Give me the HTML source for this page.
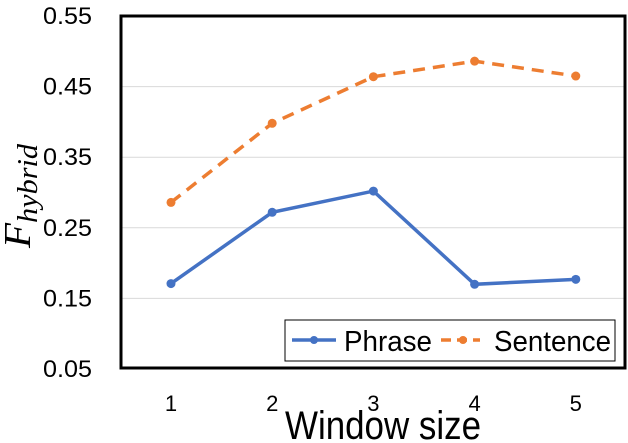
<!DOCTYPE html>
<html><head><meta charset="utf-8"><style>
body{margin:0;background:#fff}
svg{display:block;font-family:"Liberation Sans",sans-serif}
</style></head><body>
<svg id="chart" width="628" height="443">
<g id="grid"></g>
<g id="yticks"></g>
<g id="xticks"></g>
<g id="series"></g>
<rect x="121" y="16" width="504" height="352" fill="none" stroke="#000" stroke-width="3"/>
<text x="383" y="439" font-size="40" text-anchor="middle" textLength="196" lengthAdjust="spacingAndGlyphs" fill="#000">Window size</text>
<text transform="translate(30,248) rotate(-90)" font-family="Liberation Serif,serif" font-style="italic" font-size="38" textLength="104" lengthAdjust="spacingAndGlyphs">F<tspan font-size="28" dy="7">hybrid</tspan></text>
<g>
<rect x="285" y="320" width="330" height="41" fill="#fff" stroke="#000" stroke-width="1"/>
<line x1="292" y1="340" x2="336" y2="340" stroke="#4472C4" stroke-width="3.5"/>
<circle cx="314" cy="340" r="4" fill="#4472C4"/>
<text x="344" y="351" font-size="29" textLength="88" lengthAdjust="spacingAndGlyphs">Phrase</text>
<line x1="441" y1="340" x2="480" y2="340" stroke="#ED7D31" stroke-width="3.5" stroke-dasharray="10,6"/>
<circle cx="463" cy="340" r="4" fill="#ED7D31"/>
<text x="494" y="351" font-size="29" textLength="117" lengthAdjust="spacingAndGlyphs">Sentence</text>
</g>
</svg>
<script>
const categories=["1","2","3","4","5"];
const phrase=[0.171,0.272,0.302,0.170,0.177];
const sentence=[0.286,0.398,0.464,0.486,0.465];
const yTicks=[0.05,0.15,0.25,0.35,0.45,0.55];
const NS="http://www.w3.org/2000/svg";
const x=i=>171+i*101.2;
const y=v=>369-(v-0.05)/0.5*353;
function mk(tag,attrs,parent){const e=document.createElementNS(NS,tag);for(const k in attrs)e.setAttribute(k,attrs[k]);parent.appendChild(e);return e;}
const grid=document.getElementById('grid'),yt=document.getElementById('yticks'),xt=document.getElementById('xticks'),ser=document.getElementById('series');
yTicks.forEach(t=>{
  if(t>0.05&&t<0.55){const l=mk('line',{x1:121,x2:625,y1:y(t),y2:y(t),stroke:'#d9d9d9','stroke-width':1},grid);
  
  }
  const tx=mk('text',{x:43,y:y(t)+8,'font-size':24,textLength:49,lengthAdjust:'spacingAndGlyphs'},yt);tx.textContent=t.toFixed(2);
  
  
});
categories.forEach((c,i)=>{
  const tx=mk('text',{x:x(i),y:411,'font-size':22,'text-anchor':'middle'},xt);tx.textContent=c;
  
  
});
function draw(vals,color,dash,name){
  const p=mk('polyline',{points:vals.map((v,i)=>x(i)+','+y(v)).join(' '),fill:'none',stroke:color,'stroke-width':3.5,'stroke-dasharray':dash},ser);
  
  
  vals.forEach((v,i)=>{const c=mk('circle',{cx:x(i),cy:y(v),r:4.5,fill:color},ser);
  
  });
}
draw(phrase,'#4472C4','none','phrase');
draw(sentence,'#ED7D31','12,8','sentence');
</script>
</body></html>
